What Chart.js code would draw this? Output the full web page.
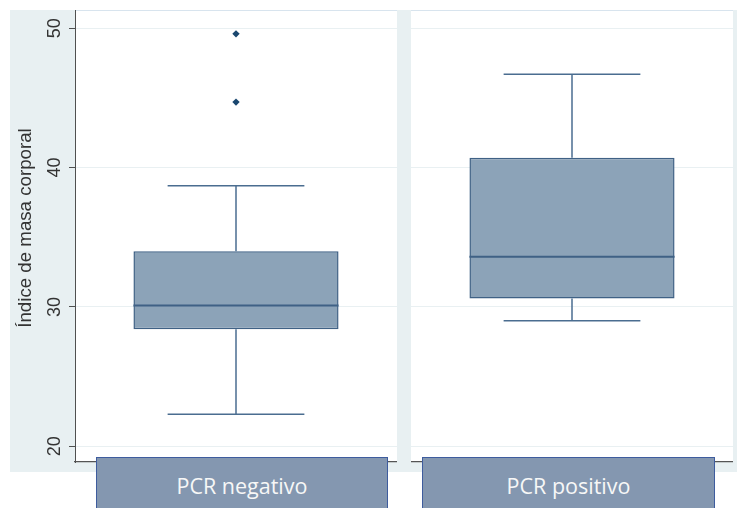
<!DOCTYPE html>
<html>
<head>
<meta charset="utf-8">
<script src="https://cdn.jsdelivr.net/npm/chart.js@4"></script>
<style>
  html, body { margin: 0; padding: 0; background: #ffffff; width: 737px; height: 508px; overflow: hidden; position: relative; }
  #region { position: absolute; left: 10px; top: 10px; width: 727px; height: 462px; background: #e8f0f2; }
  .panel { position: absolute; top: 10px; height: 462px; }
  #p0 { left: 10px; width: 387px; }
  #p1 { left: 411px; width: 322px; }
  .tag { position: absolute; top: 457px; height: 57px; box-sizing: border-box; background: #8497b0;
         border: 1.5px solid #3e5c9e; color: #f7f7f7; font: 21.5px 'Open Sans', sans-serif;
         display: flex; align-items: center; justify-content: center; }
</style>
</head>
<body>
<div id="region"></div>
<div class="panel" id="p0"><canvas id="c0"></canvas></div>
<div class="panel" id="p1"><canvas id="c1"></canvas></div>
<div class="tag" id="t0" style="left:96px; width:292px;"></div>
<div class="tag" id="t1" style="left:422px; width:293px;"></div>
<script>
// Índice de masa corporal by PCR result: five-number summary per group
const categories  = ['PCR negativo', 'PCR positivo'];
const whiskerLow  = [22.3, 29.0];
const quartile1   = [28.4, 30.6];
const medians     = [30.1, 33.6];
const quartile3   = [34.0, 40.7];
const whiskerHigh = [38.7, 46.7];
const outliers    = [[49.6, 44.7], []];
const yTicks      = [20, 30, 40, 50];
const yTitle      = 'Índice de masa corporal';

Chart.defaults.font.family = "'Liberation Sans', Arial, sans-serif";
Chart.defaults.animation = false;

// white plot region with a faint outline on top
const plotRegion = {
  id: 'plotRegion',
  beforeDraw(chart) {
    const { ctx, chartArea: a } = chart;
    ctx.save();
    ctx.fillStyle = '#ffffff';
    ctx.fillRect(a.left, a.top, a.right - a.left, a.bottom - a.top);
    ctx.strokeStyle = '#d8e4ee';
    ctx.lineWidth = 1;
    ctx.beginPath();
    ctx.moveTo(a.left, a.top + 0.5);
    ctx.lineTo(a.right, a.top + 0.5);
    ctx.stroke();
    ctx.restore();
  }
};

// whiskers, caps and median line drawn from the scale positions of the box
const whiskers = {
  id: 'whiskers',
  afterDatasetsDraw(chart, args, opts) {
    const g = opts.group;
    const bar = chart.getDatasetMeta(1).data[0];
    const y = chart.scales.y;
    const ctx = chart.ctx;
    const cx = bar.x, half = bar.width / 2, cap = bar.width / 3;
    const seg = (x1, y1, x2, y2) => { ctx.beginPath(); ctx.moveTo(x1, y1); ctx.lineTo(x2, y2); ctx.stroke(); };
    ctx.save();
    ctx.strokeStyle = '#4a6d90';
    ctx.lineWidth = 1.5;
    const yHi = y.getPixelForValue(whiskerHigh[g]);
    const yLo = y.getPixelForValue(whiskerLow[g]);
    seg(cx, y.getPixelForValue(quartile3[g]), cx, yHi);
    seg(cx, y.getPixelForValue(quartile1[g]), cx, yLo);
    seg(cx - cap, yHi, cx + cap, yHi);
    seg(cx - cap, yLo, cx + cap, yLo);
    ctx.strokeStyle = '#3f6185';
    ctx.lineWidth = 2;
    const yMed = y.getPixelForValue(medians[g]);
    seg(cx - half, yMed, cx + half, yMed);
    ctx.restore();
  }
};

// vertical axis title, set a little above the middle of the plot region
const axisTitle = {
  id: 'axisTitle',
  afterDraw(chart, args, opts) {
    if (!opts.text) return;
    const { ctx, chartArea: a } = chart;
    ctx.save();
    ctx.translate(opts.x, (a.top + a.bottom) / 2 - opts.lift);
    ctx.rotate(-Math.PI / 2);
    ctx.textAlign = 'center';
    ctx.textBaseline = 'middle';
    ctx.fillStyle = '#333333';
    ctx.font = "18.7px 'Liberation Sans', Arial, sans-serif";
    ctx.fillText(opts.text, 0, 0);
    ctx.restore();
  }
};

function panel(g) {
  const withAxis = g === 0;
  const chart = new Chart(document.getElementById('c' + g), {
    type: 'bar',
    data: {
      labels: [categories[g]],
      datasets: [
        {
          type: 'scatter',
          data: outliers[g].map(v => ({ x: categories[g], y: v })),
          showLine: false,
          pointStyle: 'rectRot',
          pointRadius: 3.7,
          pointBorderWidth: 0,
          pointBackgroundColor: '#1a476f',
          pointBorderColor: '#1a476f'
        },
        {
          data: [[quartile1[g], quartile3[g]]],
          backgroundColor: '#8ca3b8',
          borderColor: '#3f6185',
          borderWidth: 1.5,
          borderSkipped: false,
          barPercentage: 0.637,
          categoryPercentage: 1
        }
      ]
    },
    options: {
      responsive: true,
      maintainAspectRatio: false,
      layout: { padding: 0 },
      plugins: {
        legend: { display: false },
        tooltip: { enabled: false },
        whiskers: { group: g },
        axisTitle: { text: withAxis ? yTitle : '', x: 16, lift: 8 }
      },
      scales: {
        x: {
          type: 'category',
          offset: true,
          grid: { display: false },
          ticks: { display: false },
          border: { display: true, color: '#555555', width: 1.3 },
          afterFit(s) { s.height = 10; s.paddingLeft = 0; s.paddingRight = 0; }
        },
        y: {
          min: 18.87,
          max: 51.31,
          afterBuildTicks(s) { s.ticks = yTicks.map(v => ({ value: v })); },
          grid: { color: '#e9f0f2', lineWidth: 1, drawTicks: withAxis, tickLength: 6, tickColor: '#505050', tickWidth: 1 },
          border: { display: withAxis, color: '#505050', width: 1 },
          ticks: { display: withAxis, minRotation: 90, maxRotation: 90, crossAlign: 'center', padding: 4,
                   color: '#333333', font: { size: 18 } },
          title: { display: false },
          afterFit(s) { s.width = withAxis ? 65 : 0; s.paddingTop = 0; s.paddingBottom = 0; }
        }
      }
    },
    plugins: [plotRegion, whiskers, axisTitle]
  });
  // the outlier markers sit well inside the plot, so no extra margin is reserved for them
  chart.getDatasetMeta(0).controller.getMaxOverflow = () => 0;
  chart.update();
  return chart;
}

categories.forEach((c, g) => {
  document.getElementById('t' + g).textContent = c;
  panel(g);
});
</script>
</body>
</html>
